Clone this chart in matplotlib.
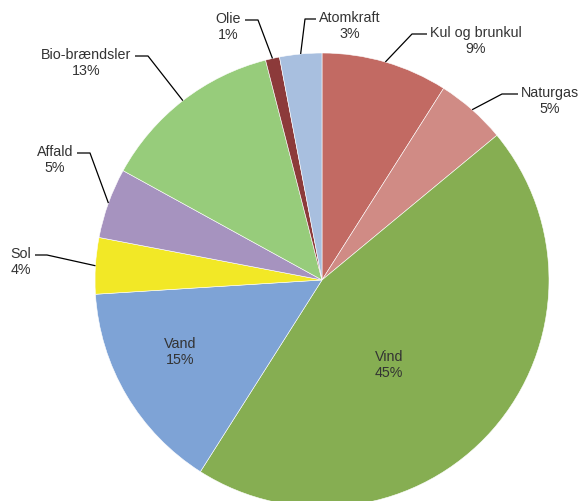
import numpy as np
import matplotlib.pyplot as plt

plt.rcParams['font.family'] = ['Liberation Sans', 'DejaVu Sans']

# Elforbrug fordelt paa energikilder (%)
labels = ['Kul og brunkul', 'Naturgas', 'Vind', 'Vand', 'Sol', 'Affald',
          'Bio-brændsler', 'Olie', 'Atomkraft']
shares = [9, 5, 45, 15, 4, 5, 13, 1, 3]
colors = ['#C26A63', '#D08B85', '#86AE52', '#7EA3D6', '#F2E826', '#A693BF',
          '#97CC7B', '#8C3A3A', '#A8BFDF']

W, H = 579, 501
fig = plt.figure(figsize=(W / 100, H / 100), dpi=100)
ax = fig.add_axes([0, 0, 1, 1])

cx, cy, r = 322, H - 280, 227
wedges, _ = ax.pie(shares, colors=colors, startangle=90, counterclock=False,
                   center=(cx, cy), radius=r,
                   wedgeprops=dict(edgecolor='white', linewidth=0.4))
ax.set_xlim(0, W)
ax.set_ylim(0, H)
ax.set_aspect('equal')
ax.axis('off')

# label placement: elbow point, end of horizontal stub (pixel coords, y down)
leaders = {
    'Kul og brunkul': ((412, 34), (427, 34)),
    'Naturgas': ((502, 94), (518, 94)),
    'Atomkraft': ((305, 19), (316, 19)),
    'Olie': ((258, 20), (245, 20)),
    'Bio-brændsler': ((148, 56), (135, 56)),
    'Affald': ((90, 153), (77, 153)),
    'Sol': ((47, 255), (35, 255)),
}
inside = {'Vand': (180, 352), 'Vind': (389, 365)}

txt_color = '#333333'
for w, name, val in zip(wedges, labels, shares):
    text = f'{name}\n{val}%'
    if name in inside:
        x, y = inside[name]
        ax.text(x, H - y, text, ha='center', va='center', fontsize=10.3,
                color=txt_color, linespacing=1.2)
        continue
    (ex, ey), (sx, sy) = leaders[name]
    mid = np.deg2rad((w.theta1 + w.theta2) / 2)
    px, py = cx + r * np.cos(mid), cy + r * np.sin(mid)
    ax.plot([px, ex, sx], [py, H - ey, H - sy], color='black', lw=0.9,
            solid_capstyle='butt')
    right = sx > ex
    tx = sx + 3 if right else sx - 4
    ax.text(tx, H - sy + 8, text, ha='left' if right else 'right', va='top',
            multialignment='center', fontsize=10.3, color=txt_color,
            linespacing=1.2)

fig.savefig('out.png', dpi=100)
